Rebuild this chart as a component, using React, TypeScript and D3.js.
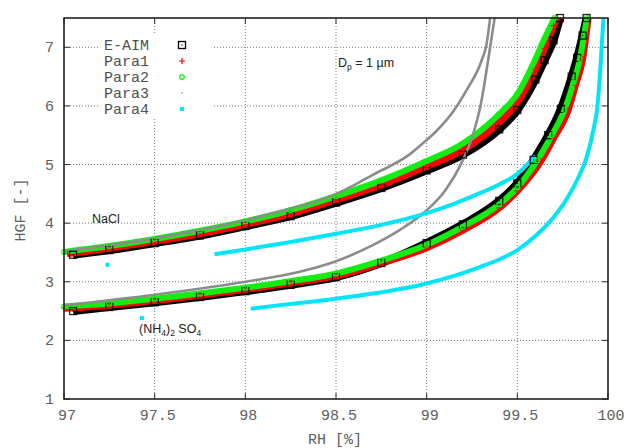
import React from "react";
import * as d3 from "d3";

const W = 628, H = 448;
const rhTicks = [97, 97.5, 98, 98.5, 99, 99.5, 100];
const hgfTicks = [1, 2, 3, 4, 5, 6, 7];
const legendNames = ["E-AIM", "Para1", "Para2", "Para3", "Para4"];

// NaCl, Dp = 1 um
const naclEaimRH = [97.05, 97.25, 97.5, 97.75, 98.0, 98.25, 98.5, 98.75, 99.0, 99.2, 99.4, 99.5, 99.6, 99.65, 99.7, 99.735];
const naclEaimHGF = [3.46, 3.54, 3.66, 3.79, 3.95, 4.12, 4.35, 4.6, 4.9, 5.17, 5.6, 5.93, 6.45, 6.78, 7.12, 7.5];
const naclP1RH = [97.02, 97.25, 97.5, 97.75, 98.0, 98.25, 98.5, 98.75, 99.0, 99.2, 99.4, 99.5, 99.6, 99.65, 99.7, 99.722];
const naclP1HGF = [3.48, 3.57, 3.69, 3.82, 3.98, 4.16, 4.4, 4.65, 4.97, 5.25, 5.72, 6.06, 6.63, 6.98, 7.37, 7.5];
const naclP2RH = [97.0, 97.25, 97.5, 97.75, 98.0, 98.25, 98.5, 98.75, 99.0, 99.2, 99.4, 99.5, 99.6, 99.65, 99.705];
const naclP2HGF = [3.51, 3.61, 3.73, 3.87, 4.03, 4.22, 4.46, 4.73, 5.06, 5.36, 5.86, 6.2, 6.8, 7.15, 7.5];
const naclP3RH = [97.0, 97.5, 98.0, 98.25, 98.4, 98.5, 98.6, 98.7, 98.9, 99.0, 99.05, 99.15, 99.22, 99.3, 99.33, 99.35];
const naclP3HGF = [3.52, 3.74, 4.05, 4.25, 4.38, 4.5, 4.65, 4.82, 5.16, 5.42, 5.56, 5.92, 6.27, 6.75, 7.05, 7.5];
const naclP4RH = [97.83, 98.0, 98.25, 98.5, 98.75, 99.0, 99.15, 99.3, 99.4, 99.5, 99.57, 99.6];
const naclP4HGF = [3.47, 3.55, 3.68, 3.82, 3.97, 4.17, 4.33, 4.52, 4.66, 4.84, 5.05, 5.15];
const naclP4LoneRH = [97.24];
const naclP4LoneHGF = [3.29];

// (NH4)2SO4, Dp = 1 um
const asEaimRH = [97.05, 97.25, 97.5, 97.75, 98.0, 98.25, 98.5, 98.75, 99.0, 99.2, 99.4, 99.5, 99.59, 99.67, 99.74, 99.8, 99.83, 99.86, 99.882];
const asEaimHGF = [2.5, 2.57, 2.65, 2.74, 2.84, 2.95, 3.08, 3.32, 3.66, 3.98, 4.38, 4.68, 5.08, 5.5, 5.95, 6.5, 6.82, 7.2, 7.5];
const asP1RH = [97.0, 97.25, 97.5, 97.75, 98.0, 98.25, 98.5, 98.75, 99.0, 99.2, 99.4, 99.5, 99.63, 99.7, 99.78, 99.82, 99.86, 99.89];
const asP1HGF = [2.55, 2.6, 2.68, 2.77, 2.87, 2.98, 3.1, 3.32, 3.58, 3.88, 4.26, 4.55, 5.06, 5.45, 5.93, 6.35, 6.8, 7.5];
const asP2RH = [97.0, 97.25, 97.5, 97.75, 98.0, 98.25, 98.5, 98.75, 99.0, 99.2, 99.4, 99.5, 99.61, 99.69, 99.76, 99.81, 99.845, 99.883];
const asP2HGF = [2.58, 2.63, 2.71, 2.8, 2.9, 3.01, 3.14, 3.36, 3.63, 3.94, 4.32, 4.61, 5.07, 5.5, 5.93, 6.4, 6.8, 7.5];
const asP3RH = [97.0, 97.5, 98.0, 98.3, 98.5, 98.7, 98.85, 99.0, 99.1, 99.2, 99.25, 99.3, 99.34, 99.375];
const asP3HGF = [2.6, 2.78, 3.0, 3.17, 3.35, 3.62, 3.88, 4.22, 4.55, 5.08, 5.46, 6.05, 6.8, 7.5];
const asP4RH = [98.03, 98.25, 98.5, 98.75, 99.0, 99.15, 99.3, 99.4, 99.5, 99.6, 99.7, 99.78, 99.84, 99.88, 99.92, 99.94, 99.955, 99.965, 99.975];
const asP4HGF = [2.54, 2.62, 2.71, 2.82, 2.97, 3.1, 3.26, 3.38, 3.54, 3.78, 4.1, 4.45, 4.8, 5.1, 5.6, 5.95, 6.5, 7.0, 7.5];
const asP4LoneRH = [97.43];
const asP4LoneHGF = [2.38];

const styles: Record<string, { color: string; width: number }> = {
  "E-AIM": { color: "#000000", width: 8 },
  "Para1": { color: "#ff0000", width: 7 },
  "Para2": { color: "#11ee11", width: 6 },
  "Para3": { color: "#8c8c8c", width: 2.6 },
  "Para4": { color: "#00e6f6", width: 4 },
};

const zip = (a: number[], b: number[]) => a.map((v, i) => [v, b[i]] as [number, number]);

const lines = [
  { name: "E-AIM", pts: zip(naclEaimRH, naclEaimHGF) },
  { name: "E-AIM", pts: zip(asEaimRH, asEaimHGF) },
  { name: "Para1", pts: zip(naclP1RH, naclP1HGF) },
  { name: "Para1", pts: zip(asP1RH, asP1HGF) },
  { name: "Para2", pts: zip(naclP2RH, naclP2HGF) },
  { name: "Para2", pts: zip(asP2RH, asP2HGF) },
  { name: "Para3", pts: zip(naclP3RH, naclP3HGF) },
  { name: "Para3", pts: zip(asP3RH, asP3HGF) },
  { name: "Para4", pts: zip(naclP4RH, naclP4HGF) },
  { name: "Para4", pts: zip(asP4RH, asP4HGF) },
];
const lonePoints = [...zip(naclP4LoneRH, naclP4LoneHGF), ...zip(asP4LoneRH, asP4LoneHGF)];

const x = d3.scaleLinear().domain([97, 100]).range([64, 608]);
const y = d3.scaleLinear().domain([1, 7.5]).range([399, 18]);

const Marker = ({ name, cx, cy, big }: { name: string; cx: number; cy: number; big?: boolean }) => {
  const c = styles[name].color;
  if (name === "E-AIM")
    return (
      <g>
        <rect x={cx - 3.5} y={cy - 3.5} width={7} height={7} fill="none" stroke={c} strokeWidth={1.3} />
        <rect x={cx - 0.6} y={cy - 0.6} width={1.2} height={1.2} fill={c} />
      </g>
    );
  if (name === "Para1")
    return <path d={`M${cx - 3},${cy}H${cx + 3}M${cx},${cy - 3}V${cy + 3}`} stroke={c} strokeWidth={1.2} />;
  if (name === "Para2")
    return (
      <g>
        <circle cx={cx} cy={cy} r={2.3} fill="none" stroke={c} strokeWidth={1.2} />
        <circle cx={cx} cy={cy} r={0.5} fill={c} />
      </g>
    );
  if (name === "Para3") return <circle cx={cx} cy={cy} r={big ? 0.8 : 1.2} fill={c} />;
  return <rect x={cx - 2} y={cy - 2} width={4} height={4} fill={c} />;
};

export default function App() {
  const line = d3
    .line<[number, number]>()
    .x((d) => x(d[0]))
    .y((d) => y(d[1]))
    .curve(d3.curveMonotoneX);

  const mono = "'Liberation Mono', 'DejaVu Sans Mono', monospace";
  const sans = "'Liberation Sans', Arial, sans-serif";

  return (
    <svg width={W} height={H} style={{ position: "absolute", left: 0, top: 0, background: "#fff" }}>
      {/* grid */}
      <g stroke="#777" strokeWidth={1} strokeDasharray="1,2">
        {rhTicks.slice(1, -1).map((t) => (
          <line key={"gx" + t} x1={x(t)} x2={x(t)} y1={y(1)} y2={y(7.5)} />
        ))}
        {hgfTicks.slice(1).map((t) => (
          <line key={"gy" + t} x1={x(97)} x2={x(100)} y1={y(t)} y2={y(t)} />
        ))}
      </g>
      {/* key background */}
      <rect x={98} y={35} width={115} height={82} fill="#fff" />

      {/* ticks */}
      <g stroke="#333" strokeWidth={1}>
        {rhTicks.map((t) => (
          <g key={"tx" + t}>
            <line x1={x(t)} x2={x(t)} y1={y(1)} y2={y(1) - 6} />
            <line x1={x(t)} x2={x(t)} y1={y(7.5)} y2={y(7.5) + 6} />
          </g>
        ))}
        {hgfTicks.map((t) => (
          <g key={"ty" + t}>
            <line x1={x(97)} x2={x(97) + 6} y1={y(t)} y2={y(t)} />
            <line x1={x(100)} x2={x(100) - 6} y1={y(t)} y2={y(t)} />
          </g>
        ))}
      </g>

      {/* series */}
      <g fill="none" strokeLinecap="butt" strokeLinejoin="round">
        {lines.map((s, i) => (
          <path key={"l" + i} d={line(s.pts) || ""} stroke={styles[s.name].color} strokeWidth={styles[s.name].width} />
        ))}
      </g>
      <g opacity={0.85}>
        {lines.map((s, i) =>
          s.name === "Para3" || s.name === "Para4"
            ? null
            : s.pts.map((p, j) => <Marker key={`m${i}-${j}`} name={s.name} cx={x(p[0])} cy={y(p[1])} />)
        )}
      </g>
      {lonePoints.map((p, j) => (
        <Marker key={"lp" + j} name="Para4" cx={x(p[0])} cy={y(p[1])} />
      ))}

      {/* border */}
      <rect x={x(97)} y={y(7.5)} width={x(100) - x(97)} height={y(1) - y(7.5)} fill="none" stroke="#222" strokeWidth={1.6} />

      {/* tick labels */}
      <g fontFamily={mono} fontSize={15} fill="#606060">
        {rhTicks.map((t) => (
          <text key={"lx" + t} x={x(t) + 3} y={420} textAnchor="middle">
            {String(t)}
          </text>
        ))}
        {hgfTicks.map((t) => (
          <text key={"ly" + t} x={54} y={y(t) + 5} textAnchor="end">
            {t}
          </text>
        ))}
        <text x={335} y={444} textAnchor="middle">RH [%]</text>
        <text transform="translate(25,210) rotate(-90)" textAnchor="middle">HGF [-]</text>
      </g>

      {/* key */}
      <g fontFamily={mono} fontSize={15} fill="#505050">
        {legendNames.map((n, i) => (
          <g key={"k" + n}>
            <text x={149} y={50 + i * 16} textAnchor="end">{n}</text>
            <Marker name={n} cx={182} cy={45 + i * 16} big />
          </g>
        ))}
      </g>

      {/* annotations */}
      <g fontFamily={sans} fontSize={12.5} fill="#222">
        <text x={92} y={223}>NaCl</text>
        <text x={338} y={67}>
          D<tspan fontSize={8.5} dy={3}>p</tspan>
          <tspan dy={-3}> = 1 µm</tspan>
        </text>
        <text x={139} y={333}>
          (NH<tspan fontSize={8.5} dy={3}>4</tspan>
          <tspan dy={-3}>)</tspan>
          <tspan fontSize={8.5} dy={3}>2</tspan>
          <tspan dy={-3}> SO</tspan>
          <tspan fontSize={8.5} dy={3}>4</tspan>
        </text>
      </g>
    </svg>
  );
}
